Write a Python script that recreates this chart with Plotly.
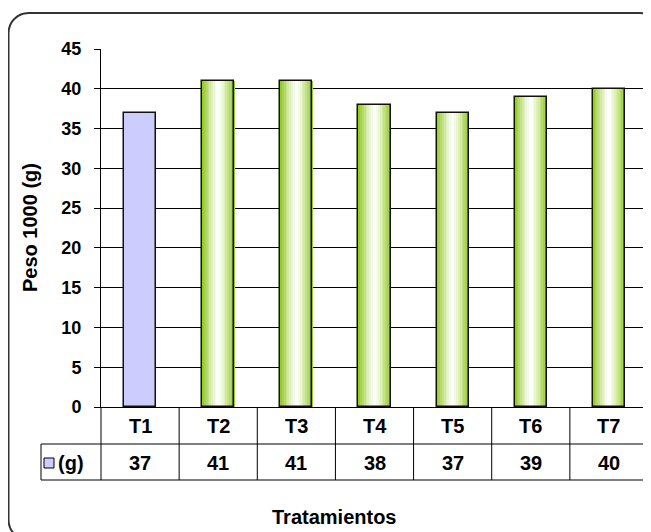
import math
import plotly.graph_objects as go

categories = ["T1", "T2", "T3", "T4", "T5", "T6", "T7"]
values = [37, 41, 41, 38, 37, 39, 40]
series_name = "(g)"
y_ticks = [0, 5, 10, 15, 20, 25, 30, 35, 40, 45]

# the page body adds an 8px margin, so the figure is laid out in screen px minus 8
OFF = 8
W, H = 651 - OFF, 532 - OFF
PL, PR, PT, PB = 101, 648, 49, 407          # plot area on screen
L, R, T, B = PL - OFF, W - (PR - OFF), PT - OFF, H - (PB - OFF)
PW, PH = PR - PL, PB - PT
FONT = "Arial, Liberation Sans, sans-serif"


def px(x):
    return (x - PL) / PW


def py(y):
    return (PB - y) / PH


def lerp(c1, c2, t):
    return "rgb(%d,%d,%d)" % tuple(round(a + (b - a) * t) for a, b in zip(c1, c2))


fig = go.Figure()

bar_w = 0.41
lavender = "#CCCCFF"
green = (150, 204, 40)
white = (255, 255, 255)

# gradient bars for T2..T7 built from thin stripes
n = 18
sw = bar_w / n
for k in range(n):
    t = abs(2 * k / (n - 1) - 1) ** 1.3
    fig.add_trace(go.Bar(
        x=categories[1:], y=values[1:],
        width=sw * 1.15, offset=-bar_w / 2 + k * sw,
        marker=dict(color=lerp(white, green, t), line=dict(width=0)),
        showlegend=False, hoverinfo="skip",
    ))

# outline + T1 fill
fig.add_trace(go.Bar(
    x=categories, y=values, width=bar_w, offset=-bar_w / 2,
    name=series_name,
    marker=dict(color=[lavender] + ["rgba(0,0,0,0)"] * 6,
                line=dict(color="#111", width=1.5)),
    showlegend=False,
))

fig.update_layout(
    width=W, height=H,
    margin=dict(l=L, r=R, t=T, b=B),
    paper_bgcolor="white", plot_bgcolor="white",
    barmode="overlay", bargap=0,
    font=dict(family=FONT, size=18, color="black", weight="bold"),
    showlegend=False,
)
fig.update_xaxes(range=[-0.5, 6.5], categoryorder="array", categoryarray=categories,
                 showticklabels=False, showgrid=False,
                 showline=True, linecolor="black", linewidth=1, ticks="")
fig.update_yaxes(range=[0, 45], tickvals=y_ticks, showgrid=True,
                 gridcolor="black", gridwidth=1, showline=True,
                 linecolor="black", linewidth=1, ticks="outside", ticklen=6,
                 tickcolor="black", ticklabelstandoff=9,
                 tickfont=dict(family=FONT, size=18, color="black", weight="bold"),
                 zeroline=False)

shapes = []
line = dict(color="black", width=1)
row1, row2 = py(444), py(480)
leg_x = px(41)
# data table grid
for i in range(len(categories) + 1):
    shapes.append(dict(type="line", xref="paper", yref="paper",
                       x0=i / len(categories), x1=i / len(categories),
                       y0=0, y1=row2, line=line))
for yy in (row1, row2):
    shapes.append(dict(type="line", xref="paper", yref="paper",
                       x0=leg_x, x1=1, y0=yy, y1=yy, line=line))
shapes.append(dict(type="line", xref="paper", yref="paper",
                   x0=leg_x, x1=leg_x, y0=row1, y1=row2, line=line))
# legend key
shapes.append(dict(type="rect", xref="paper", yref="paper",
                   x0=px(44), x1=px(54), y0=py(468), y1=py(458),
                   fillcolor=lavender, line=dict(color="black", width=1)))

# rounded chart border
x0b, x1b, y0b, y1b, rad = 8.5, 660, 13, 540, 20
pts = []
for cx, cy, a0 in [(x1b - rad, y0b + rad, -90), (x1b - rad, y1b - rad, 0),
                   (x0b + rad, y1b - rad, 90), (x0b + rad, y0b + rad, 180)]:
    for s in range(9):
        a = math.radians(a0 + s * 90 / 8)
        pts.append((cx + rad * math.cos(a), cy + rad * math.sin(a)))
path = "M " + " L ".join("%.5f,%.5f" % (px(a), py(b)) for a, b in pts) + " Z"
shapes.append(dict(type="path", xref="paper", yref="paper", path=path,
                   line=dict(color="#333", width=2)))
fig.update_layout(shapes=shapes)

txt = dict(showarrow=False, xanchor="center", yanchor="middle", font=dict(size=20))
ann = []
for c, v in zip(categories, values):
    ann.append(dict(x=c, y=py(426), xref="x", yref="paper", text=c, **txt))
    ann.append(dict(x=c, y=py(463), xref="x", yref="paper", text=str(v), **txt))
ann.append(dict(x=px(56), y=py(463), xref="paper", yref="paper", text=series_name,
                **{**txt, "xanchor": "left"}))
ann.append(dict(x=px(30), y=py(228), xref="paper", yref="paper",
                text="Peso 1000 (g)", textangle=-90, **txt))
ann.append(dict(x=px(334), y=py(517), xref="paper", yref="paper",
                text="Tratamientos", **txt))
fig.update_layout(annotations=ann)

fig.write_html("out.html")
